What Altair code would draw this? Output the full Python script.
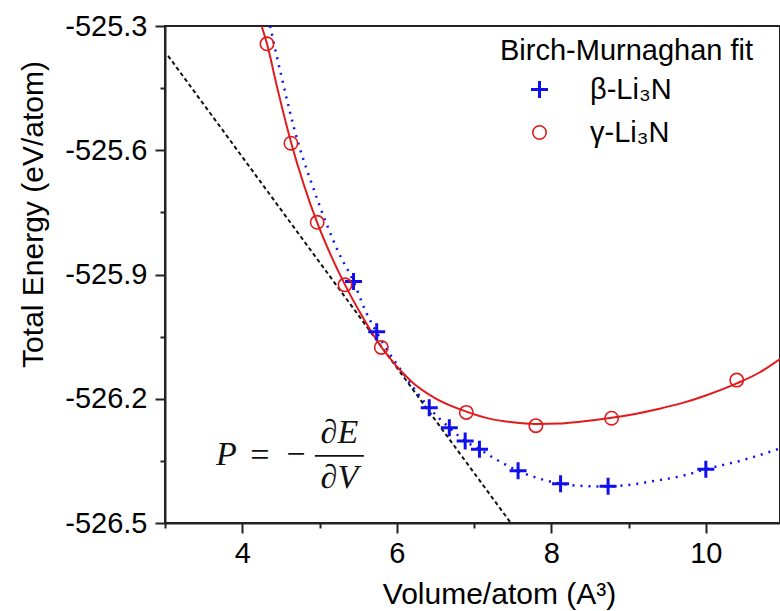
import altair as alt
import pandas as pd

FONT = "Liberation Sans"
SERIF = "Liberation Serif"
BLUE = "#1010ee"
RED = "#e31a1c"
PLUS = "M-1,0H1M0,-1V1"

phases = ["β-Li₃N", "γ-Li₃N"]

# measured points
beta_x = [5.44, 5.74, 6.42, 6.68, 6.885, 7.07, 7.57, 8.12, 8.735, 10.0]
beta_y = [-525.917, -526.038, -526.222, -526.270, -526.302, -526.322, -526.374, -526.405, -526.411, -526.370]
gamma_x = [4.32, 4.63, 4.97, 5.33, 5.80, 6.90, 7.80, 8.78, 10.40]
gamma_y = [-525.343, -525.583, -525.774, -525.925, -526.076, -526.233, -526.265, -526.247, -526.155]

# Birch-Murnaghan fit curves
beta_fit_x = [4.36, 4.5, 4.725, 4.9, 5.083, 5.25, 5.44, 5.6, 5.74, 5.9, 6.1, 6.42, 6.68, 6.885,
              7.07, 7.3, 7.57, 7.85, 8.12, 8.45, 8.735, 9.0, 9.35, 9.7, 10.0, 10.5, 10.96]
beta_fit_y = [-525.300, -525.416, -525.583, -525.681, -525.774, -525.848, -525.917, -525.990,
              -526.040, -526.089, -526.143, -526.222, -526.270, -526.302, -526.322, -526.348,
              -526.374, -526.393, -526.405, -526.411, -526.412, -526.408, -526.398, -526.386,
              -526.370, -526.347, -526.320]
gamma_fit_x = [4.25, 4.32, 4.45, 4.63, 4.8, 4.97, 5.15, 5.33, 5.55, 5.8, 6.0, 6.2, 6.5, 6.9,
               7.2, 7.5, 7.8, 8.1, 8.4, 8.78, 9.1, 9.4, 9.7, 10.0, 10.4, 10.7, 10.96]
gamma_fit_y = [-525.300, -525.343, -525.447, -525.580, -525.685, -525.775, -525.855, -525.925,
               -526.000, -526.075, -526.122, -526.160, -526.199, -526.231, -526.248, -526.257,
               -526.261, -526.260, -526.255, -526.246, -526.236, -526.224, -526.210, -526.192,
               -526.163, -526.136, -526.104]

# tangent line P = -dE/dV
tan_x = [3.04, 7.476]
tan_y = [-525.372, -526.5]

# tick values
x_ticks = [3, 4, 5, 6, 7, 8, 9, 10]
y_ticks = [-526.5, -526.35, -526.2, -526.05, -525.9, -525.75, -525.6, -525.45, -525.3]

# annotation (equation) anchors in data units
eq_x = [3.796, 4.229, 4.695]
eq_y = [-526.360, -526.362, -526.360]
eq_t = ["P", "=", "−"]
frac_x = [5.257, 5.257]
frac_y = [-526.307, -526.415]
frac_t = ["∂E", "∂V"]
bar_x = [4.940]
bar_x2 = [5.574]
bar_y = [-526.338]

pts = pd.DataFrame({
    "V": beta_x + gamma_x,
    "E": beta_y + gamma_y,
    "phase": [phases[0]] * len(beta_x) + [phases[1]] * len(gamma_x),
})
bfit = pd.DataFrame({"V": beta_fit_x, "E": beta_fit_y})
gfit = pd.DataFrame({"V": gamma_fit_x, "E": gamma_fit_y})
tan = pd.DataFrame({"V": tan_x, "E": tan_y})
eq1 = pd.DataFrame({"V": eq_x[:1], "E": eq_y[:1], "t": eq_t[:1]})
eq2 = pd.DataFrame({"V": eq_x[1:], "E": eq_y[1:], "t": eq_t[1:]})
frac = pd.DataFrame({"V": frac_x, "E": frac_y, "t": frac_t})
bar = pd.DataFrame({"V": bar_x, "V2": bar_x2, "E": bar_y})

xs = alt.Scale(domain=[3, 10.96], nice=False, zero=False)
ys = alt.Scale(domain=[-526.5, -525.3], nice=False, zero=False)

xaxis = alt.Axis(
    values=x_ticks,
    labelExpr="datum.value % 2 == 0 ? datum.label : ''",
    tickSize={"condition": {"test": "datum.value % 2 == 0", "value": 10}, "value": 5},
    labelPadding=6,
    labelFlush=False, labelOverlap=False,
    title="Volume/atom (A³)",
    titleX=334, titleY=80, titleAlign="center", titleBaseline="alphabetic",
    grid=False,
)
yaxis = alt.Axis(
    values=y_ticks,
    labelExpr="abs(round(datum.value*100)) % 30 == 0 ? '-' + format(abs(datum.value), '.1f') : ''",
    tickSize={"condition": {"test": "abs(round(datum.value*100)) % 30 == 0", "value": 10}, "value": 5},
    labelPadding=8,
    labelFlush=False, labelOverlap=False,
    title="Total Energy (eV/atom)",
    titleX=-123, titleY=188, titleAngle=270, titleAlign="center", titleBaseline="alphabetic",
    grid=False,
)

X = alt.X("V:Q", scale=xs, axis=xaxis)
Y = alt.Y("E:Q", scale=ys, axis=yaxis)

tangent = alt.Chart(tan).mark_line(color="#111111", strokeWidth=2, strokeDash=[4, 3], clip=True).encode(x=X, y=Y)
bline = alt.Chart(bfit).mark_line(color=BLUE, strokeWidth=2.5, strokeDash=[2, 6],
                                  interpolate="monotone", clip=True).encode(x=X, y=Y)
gline = alt.Chart(gfit).mark_line(color=RED, strokeWidth=2,
                                  interpolate="monotone", clip=True).encode(x=X, y=Y)

leg = alt.Legend(
    orient="none", legendX=335, legendY=11, padding=0,
    title="Birch-Murnaghan fit", titleFontSize=29, titleFont=FONT, titleFontWeight="normal",
    titleColor="black", titlePadding=9, titleLimit=500,
    labelFontSize=29, labelFont=FONT, labelColor="black", labelLimit=300,
    symbolOffset=25, labelOffset=36, rowPadding=13,
    symbolFillColor="transparent",
)

points = alt.Chart(pts).mark_point(filled=False, opacity=1, clip=True).encode(
    x=X, y=Y,
    color=alt.Color("phase:N", scale=alt.Scale(domain=phases, range=[BLUE, RED]), legend=leg),
    shape=alt.Shape("phase:N", scale=alt.Scale(domain=phases, range=[PLUS, "circle"])),
    size=alt.Size("phase:N", scale=alt.Scale(type="point", domain=phases, range=[289, 180])),
    strokeWidth=alt.StrokeWidth("phase:N", scale=alt.Scale(type="point", domain=phases, range=[3, 1.6])),
)

t1 = alt.Chart(eq1).mark_text(font=SERIF, fontSize=34, fontStyle="italic", align="center",
                              baseline="alphabetic", color="#111111").encode(x=X, y=Y, text="t:N")
t2 = alt.Chart(eq2).mark_text(font=SERIF, fontSize=34, align="center",
                              baseline="alphabetic", color="#111111").encode(x=X, y=Y, text="t:N")
t3 = alt.Chart(frac).mark_text(font=SERIF, fontSize=34, fontStyle="italic", align="center",
                               baseline="alphabetic", color="#111111").encode(x=X, y=Y, text="t:N")
t4 = alt.Chart(bar).mark_rule(color="#111111", strokeWidth=1.6).encode(x=X, x2="V2:Q", y=Y)

chart = alt.layer(tangent, bline, gline, points, t1, t2, t3, t4).properties(
    width=615, height=497,
    padding={"left": 165, "top": 26, "right": 0, "bottom": 88},
    autosize=alt.AutoSizeParams(type="none"),
    background="white",
).configure_view(
    stroke="#222222", strokeWidth=2
).configure_axis(
    labelFont=FONT, labelFontSize=29, labelColor="black",
    titleFont=FONT, titleFontSize=30, titleColor="black", titleFontWeight="normal",
    domainColor="#222222", domainWidth=2, tickColor="#222222", tickWidth=2,
)

chart.save("out.html", embed_options={"renderer": "svg", "actions": False})
